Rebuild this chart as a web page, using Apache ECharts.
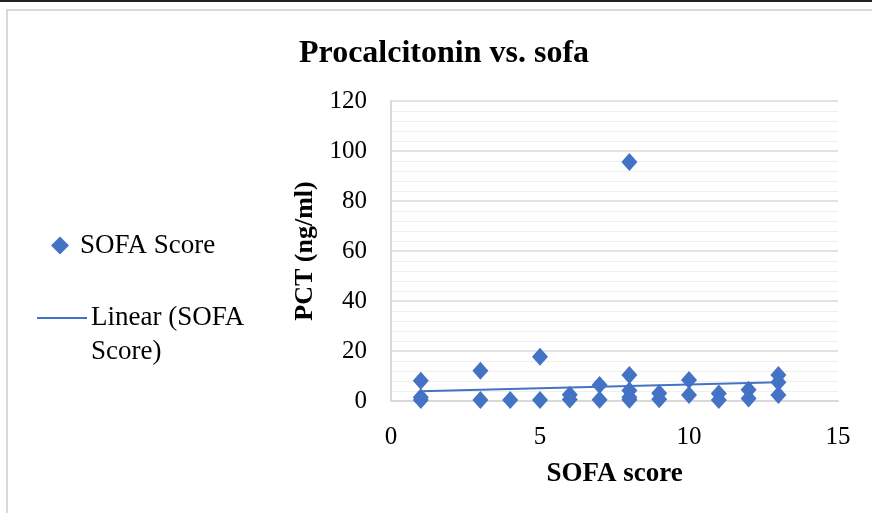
<!DOCTYPE html>
<html>
<head>
<meta charset="utf-8">
<script src="https://cdn.jsdelivr.net/npm/echarts@6/dist/echarts.min.js"></script>
<style>
html,body{margin:0;padding:0;background:#fff;}
#chart{width:872px;height:513px;}
</style>
</head>
<body>
<div id="chart"></div>
<script>
// ---- data ----
const sofaScore = [1,1,1,3,3,4,5,5,6,6,7,7,8,8,8,8,8,9,9,10,10,11,11,12,12,13,13,13];
const pctValues = [8.1,1.5,0.4,12.1,0.4,0.4,17.7,0.4,2.5,0.6,6.4,0.5,95.6,10.4,4.2,1.5,0.5,3.1,0.7,8.4,2.4,3.0,0.4,4.5,1.0,10.4,7.5,2.4];
const trendX = [1, 13];
const trendY = [3.9, 7.5];
const xTicks = [0, 5, 10, 15];
const yTicks = [0, 20, 40, 60, 80, 100, 120];
const seriesName = 'SOFA Score';
const trendName = 'Linear (SOFA Score)';

const blue = '#4472C4';
const serif = '"Liberation Serif", "Times New Roman", serif';

const chart = echarts.init(document.getElementById('chart'));
chart.setOption({
  animation: false,
  backgroundColor: '#fff',
  graphic: [
    { type: 'rect', shape: { x: 0, y: 0, width: 872, height: 2 }, style: { fill: '#222' }, silent: true },
    { type: 'rect', shape: { x: 7, y: 10, width: 880, height: 520 }, style: { fill: 'none', stroke: '#d9d9d9', lineWidth: 2 }, silent: true }
  ],
  title: {
    text: 'Procalcitonin vs. sofa',
    left: 439, top: 33, textAlign: 'center',
    textStyle: { fontFamily: serif, fontWeight: 'bold', fontSize: 32, color: '#000' }
  },
  legend: [
    {
      data: [{ name: seriesName, icon: 'diamond' }],
      orient: 'vertical', left: 46, top: 227,
      itemWidth: 18, itemHeight: 18, itemGap: 10,
      textStyle: { fontFamily: serif, fontSize: 27, color: '#000', padding: [0,0,0,6] }
    },
    {
      data: [{ name: trendName, icon: 'rect' }],
      orient: 'vertical', left: 32, top: 262,
      itemWidth: 50, itemHeight: 2,
      formatter: function () { return ' \nLinear (SOFA\nScore)'; },
      textStyle: { fontFamily: serif, fontSize: 27, color: '#000', lineHeight: 34, padding: [0,0,0,-1] }
    }
  ],
  grid: { left: 391, right: 34, top: 101, bottom: 112, containLabel: false },
  xAxis: {
    type: 'value', min: xTicks[0], max: xTicks[xTicks.length-1], interval: 5,
    name: 'SOFA score', nameLocation: 'middle', nameGap: 60,
    nameTextStyle: { fontFamily: serif, fontWeight: 'bold', fontSize: 27, color: '#000' },
    axisLine: { show: true, lineStyle: { color: '#d9d9d9', width: 2 } },
    axisTick: { show: false },
    axisLabel: { fontFamily: serif, fontSize: 25, color: '#000', margin: 24 },
    splitLine: { show: false }
  },
  yAxis: {
    type: 'value', min: yTicks[0], max: yTicks[yTicks.length-1], interval: 20,
    name: 'PCT (ng/ml)', nameLocation: 'middle', nameGap: 65, nameRotate: 90,
    nameTextStyle: { fontFamily: serif, fontWeight: 'bold', fontSize: 26, color: '#000' },
    axisLine: { show: true, lineStyle: { color: '#d9d9d9', width: 2 } },
    axisTick: { show: false },
    axisLabel: { fontFamily: serif, fontSize: 25, color: '#000', margin: 24 },
    splitLine: { show: true, lineStyle: { color: '#d9d9d9', width: 1.5 } },
    minorTick: { show: false, splitNumber: 5 },
    minorSplitLine: { show: true, lineStyle: { color: '#efefef', width: 1 } }
  },
  series: [
    {
      name: seriesName, type: 'scatter',
      symbol: 'diamond', symbolSize: [16, 18],
      itemStyle: { color: blue, opacity: 1 },
      data: sofaScore.map((x, i) => [x, pctValues[i]]),
      z: 3
    },
    {
      name: trendName, type: 'line',
      showSymbol: false, symbol: 'none',
      lineStyle: { color: blue, width: 2 },
      itemStyle: { color: blue },
      data: trendX.map((x, i) => [x, trendY[i]]),
      z: 4
    }
  ]
});
</script>
</body>
</html>
